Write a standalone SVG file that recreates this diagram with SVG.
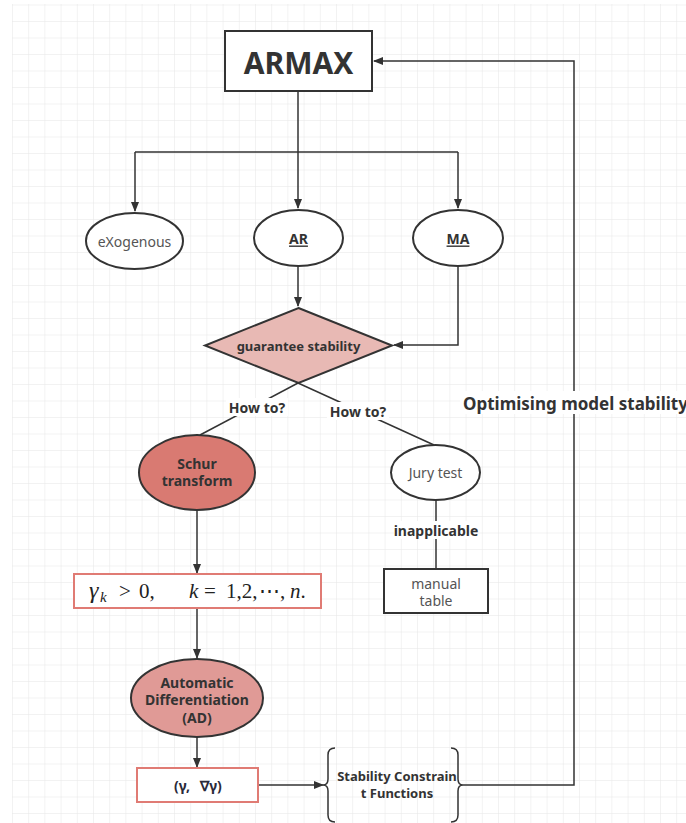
<svg xmlns="http://www.w3.org/2000/svg" width="686" height="823" viewBox="0 0 686 823">
<defs>
<pattern id="grid" x="12" y="4.5" width="16.2" height="16.5" patternUnits="userSpaceOnUse">
<path d="M0 0 H16.2 M0 0 V16.5" fill="none" stroke="#e6e6e6" stroke-width="1"/>
</pattern>
<marker id="arr" viewBox="0 0 10 10" refX="9" refY="5" markerWidth="10" markerHeight="10" markerUnits="userSpaceOnUse" orient="auto">
<path d="M0 1 L10 5 L0 9 Z" fill="#333"/>
</marker>
<style>
.node{stroke:#333;stroke-width:2}
.c{fill:none;stroke:#333;stroke-width:1.5}
.t{font-family:"Noto Sans","Open Sans","Liberation Sans",sans-serif;text-anchor:middle;dominant-baseline:central}
.b{font-weight:bold;fill:#333;font-size:14px}
.n{fill:#555;font-size:14px}
.lbl{fill:#fff}
.red{fill:#fff;stroke:#e07b74;stroke-width:2}
.m{font-family:"Liberation Serif","DejaVu Serif",serif;font-size:21px;fill:#222}
</style>
</defs>
<rect width="686" height="823" fill="#fff"/>
<rect x="12" y="4" width="674" height="819" fill="url(#grid)"/>

<g id="connectors">
<path class="c" d="M298 92 V152"/>
<path class="c" d="M135 152 H458"/>
<path class="c" d="M135 152 V211" marker-end="url(#arr)"/>
<path class="c" d="M298 152 V208" marker-end="url(#arr)"/>
<path class="c" d="M458 152 V208" marker-end="url(#arr)"/>
<path class="c" d="M298 266 V306" marker-end="url(#arr)"/>
<path class="c" d="M458 266 V345 H394" marker-end="url(#arr)"/>
<path class="c" d="M298 383 L200 435"/>
<path class="c" d="M298 383 L434 445"/>
<path class="c" d="M436 500 V568"/>
<path class="c" d="M197 510 V573" marker-end="url(#arr)"/>
<path class="c" d="M197 608 V658" marker-end="url(#arr)"/>
<path class="c" d="M197 737 V767" marker-end="url(#arr)"/>
<path class="c" d="M258 785 H323" marker-end="url(#arr)"/>
<path class="c" d="M463 785 H574 V61 H374" marker-end="url(#arr)"/>
<rect class="lbl" x="226" y="398" width="62" height="18"/>
<text class="t b" x="257" y="407">How to?</text>
<rect class="lbl" x="327" y="402" width="62" height="18"/>
<text class="t b" x="358" y="411">How to?</text>
<rect class="lbl" x="394" y="521" width="84" height="18"/>
<text class="t b" x="436" y="530">inapplicable</text>
<rect class="lbl" x="460" y="391" width="226" height="23"/>
<text class="t" x="463" y="403" style="text-anchor:start;font-weight:bold;fill:#333;font-size:17px">Optimising model stability</text>
</g>

<g id="armax">
<rect class="node" x="225" y="31" width="147" height="60" fill="#fff"/>
<text class="t" x="298.5" y="62" style="font-weight:bold;fill:#333;font-size:30px">ARMAX</text>
</g>

<g id="exogenous">
<ellipse class="node" cx="134.5" cy="241" rx="48.5" ry="28" fill="#fff"/>
<text class="t n" x="134.5" y="241">eXogenous</text>
</g>

<g id="ar">
<ellipse class="node" cx="298.5" cy="238" rx="44.5" ry="28" fill="#fff"/>
<text class="t b" x="298.5" y="238" text-decoration="underline">AR</text>
</g>

<g id="ma">
<ellipse class="node" cx="458" cy="238" rx="45" ry="28" fill="#fff"/>
<text class="t b" x="458" y="238" text-decoration="underline">MA</text>
</g>

<g id="guarantee">
<path class="node" d="M298.5 308 L392 345.5 L298.5 383 L205 345.5 Z" fill="#e8b9b4"/>
<text class="t b" x="298.5" y="345.5" style="font-size:13px">guarantee stability</text>
</g>

<g id="schur">
<ellipse class="node" cx="197" cy="472.5" rx="58" ry="37.5" fill="#d97a72"/>
<text class="t b" x="197" y="463">Schur</text>
<text class="t b" x="197" y="480">transform</text>
</g>

<g id="jury">
<ellipse class="node" cx="435.5" cy="472.5" rx="44.5" ry="27.5" fill="#fff"/>
<text class="t n" x="435.5" y="472">Jury test</text>
</g>

<g id="manual">
<rect class="node" x="384" y="569" width="104" height="44" fill="#fff"/>
<text class="t n" x="436" y="583">manual</text>
<text class="t n" x="436" y="600">table</text>
</g>

<g id="condition">
<rect class="red" x="74" y="574" width="247" height="34"/>
<text class="m" y="598"><tspan x="89" font-style="italic" font-size="24">γ</tspan><tspan x="100" y="602" font-size="15" font-style="italic">k</tspan><tspan x="119" y="598">&gt;</tspan><tspan x="139">0,</tspan><tspan x="189" font-style="italic">k</tspan><tspan x="204">=</tspan><tspan x="226">1,2,</tspan><tspan x="259">⋯,</tspan><tspan x="290" font-style="italic">n</tspan><tspan>.</tspan></text>
</g>

<g id="ad">
<ellipse class="node" cx="197" cy="698" rx="66" ry="39" fill="#e09a96"/>
<text class="t b" x="197" y="682">Automatic</text>
<text class="t b" x="197" y="699">Differentiation</text>
<text class="t b" x="197" y="717">(AD)</text>
</g>

<g id="gradient">
<rect class="red" x="137" y="768" width="121" height="34"/>
<text class="t b" y="785" style="fill:#2a2a3a"><tspan x="182">(γ,</tspan><tspan x="211">∇γ)</tspan></text>
</g>

<g id="constraint">
<path fill="none" stroke="#333" stroke-width="1.5" d="M335 748 Q328 748 328 755 V779 Q328 785 323 785 Q328 785 328 791 V815 Q328 822 335 822"/>
<path fill="none" stroke="#333" stroke-width="1.5" d="M451 748 Q458 748 458 755 V779 Q458 785 463 785 Q458 785 458 791 V815 Q458 822 451 822"/>
<text class="t b" x="397" y="776" style="font-size:13px">Stability Constrain</text>
<text class="t b" x="397" y="793" style="font-size:13px">t Functions</text>
</g>
</svg>
